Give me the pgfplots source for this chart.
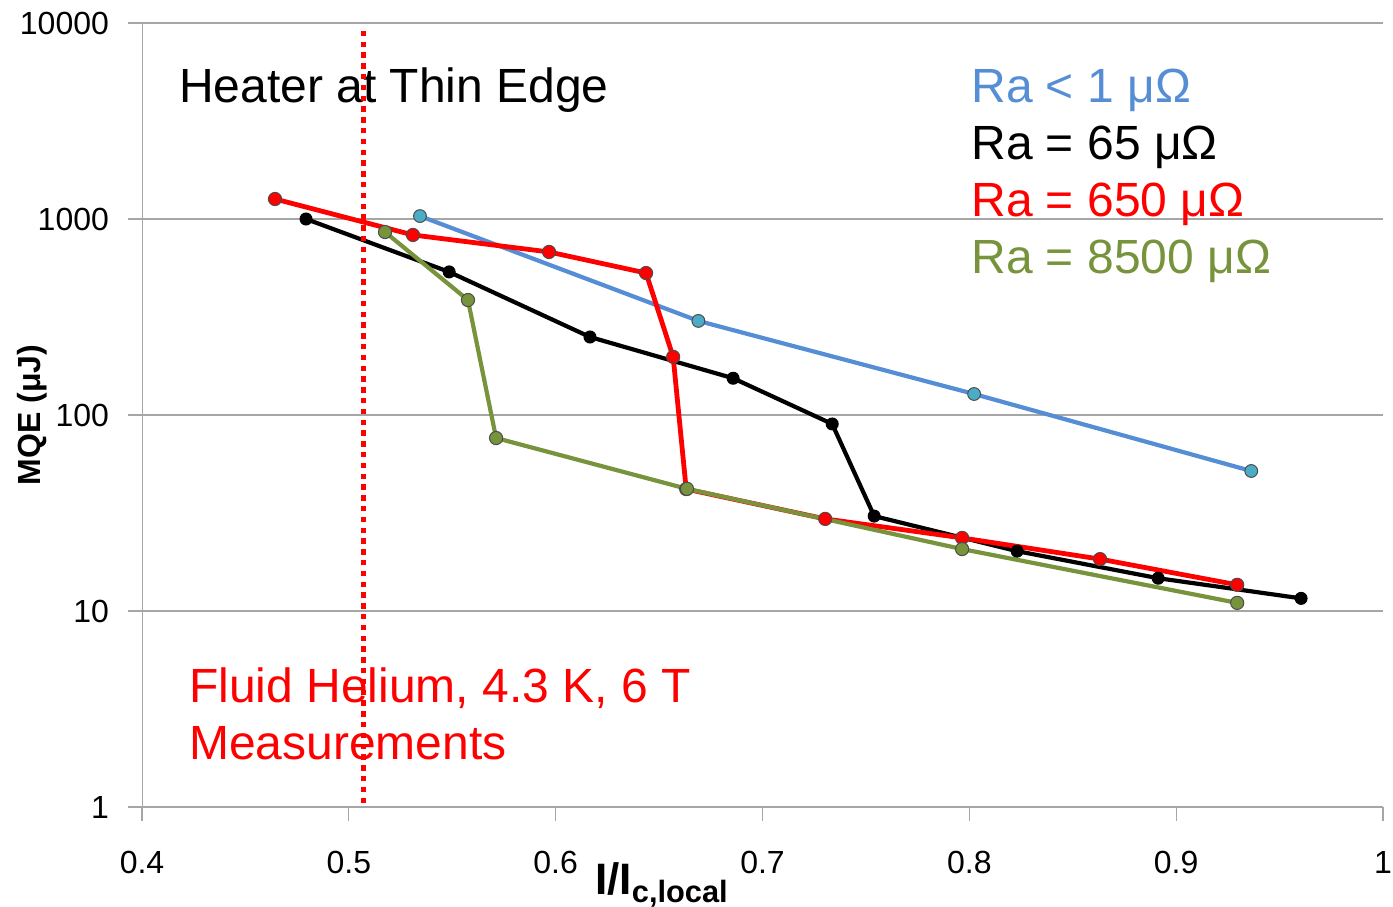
\documentclass[border=0pt]{standalone}
\usepackage{pgfplots}
\pgfplotsset{compat=1.18}
\usepackage{fontspec}
\setmainfont{Liberation Sans}
\definecolor{raBlue}{HTML}{558ED5}
\definecolor{raTeal}{HTML}{4BACC6}
\definecolor{raGreen}{HTML}{77933C}
\definecolor{gridGray}{HTML}{A6A6A6}
\begin{document}
\begin{tikzpicture}
\begin{semilogyaxis}[
  scale only axis, width=620.5pt, height=392pt,
  xmin=0.4, xmax=1, ymin=1, ymax=10000,
  axis x line=bottom, axis y line=left, axis line style={-, gridGray},
  xtick={0.4,0.5,0.6,0.7,0.8,0.9,1}, xticklabels={0.4,0.5,0.6,0.7,0.8,0.9,1},
  ytick={1,10,100,1000,10000}, yticklabels={1,10,100,1000,10000},
  yminorticks=false, ymajorgrids=true,
  major grid style={gridGray, line width=0.6pt},
  tick style={gridGray, line width=0.6pt}, tick align=outside, major tick length=7pt,
  /pgf/number format/assume math mode=true,
  ticklabel style={font=\fontsize{16}{19}\selectfont},
  xticklabel style={yshift=-11.5pt},
  yticklabel style={xshift=-6pt},
  xlabel={\textbf{I/I\textsubscript{c,local}}},
  xlabel style={font=\fontsize{22}{26}\selectfont, at={(axis description cs:0.419,-0.0995)}, anchor=center},
  ylabel={\textbf{MQE (μJ)}},
  ylabel style={font=\fontsize{16}{19}\selectfont, at={(axis description cs:-0.0886,0.5)}, anchor=center, rotate=0},
  clip=false,
]
% Ra < 1 uOhm
\addplot[raBlue, line width=2.1pt, mark=*, mark size=3.2pt, mark options={fill=raTeal, draw=black!70, line width=0.5pt}] coordinates {
(0.5344,1035) (0.669,302) (0.8023,128) (0.9363,51.8)
};
% Ra = 65 uOhm
\addplot[black, line width=2.1pt, mark=*, mark size=3pt, mark options={fill=black, draw=black, line width=0.5pt}] coordinates {
(0.4793,1000) (0.5485,537) (0.6166,250) (0.6858,154) (0.7337,90) (0.754,30.5) (0.8231,20.2) (0.8913,14.7) (0.9604,11.6)
};
% Ra = 650 uOhm
\addplot[red, line width=2.4pt, mark=*, mark size=3.3pt, mark options={fill=red, draw=black!70, line width=0.5pt}] coordinates {
(0.4643,1265) (0.531,829) (0.5968,679) (0.6437,530) (0.6568,198) (0.6631,41.9) (0.7303,29.5) (0.7965,23.6) (0.8632,18.4) (0.9295,13.6)
};
% Ra = 8500 uOhm
\addplot[raGreen, line width=2.1pt, mark=*, mark size=3.3pt, mark options={fill=raGreen, draw=black!70, line width=0.5pt}] coordinates {
(0.5175,858) (0.5576,386) (0.5712,76.3) (0.6635,42) (0.7965,20.7) (0.9295,11.0)
};
% text
\node[anchor=base west, font=\fontsize{24}{28}\selectfont] at (rel axis cs:0.0242,0.899) {Heater at Thin Edge};
\node[anchor=base west, font=\fontsize{24}{28}\selectfont, text=raBlue] at (rel axis cs:0.6626,0.899) {Ra < 1 μΩ};
\node[anchor=base west, font=\fontsize{24}{28}\selectfont, text=black] at (rel axis cs:0.6626,0.8265) {Ra = 65 μΩ};
\node[anchor=base west, font=\fontsize{24}{28}\selectfont, text=red] at (rel axis cs:0.6626,0.7538) {Ra = 650 μΩ};
\node[anchor=base west, font=\fontsize{24}{28}\selectfont, text=raGreen] at (rel axis cs:0.6626,0.681) {Ra = 8500 μΩ};
\node[anchor=base west, font=\fontsize{24}{28}\selectfont, text=red] at (rel axis cs:0.0323,0.1327) {Fluid Helium, 4.3 K, 6 T};
\node[anchor=base west, font=\fontsize{24}{28}\selectfont, text=red] at (rel axis cs:0.0323,0.06) {Measurements};
% dotted marker line
\addplot[red, line width=2.6pt, dash pattern=on 2.7pt off 2.7pt] coordinates {(0.5069,1.048) (0.5069,9210)};
\end{semilogyaxis}
\pgfresetboundingbox
\path[use as bounding box] ([shift={(-71pt,-49.5pt)}]current axis.south west) rectangle ([shift={(5pt,11.5pt)}]current axis.north east);
\end{tikzpicture}
\end{document}
